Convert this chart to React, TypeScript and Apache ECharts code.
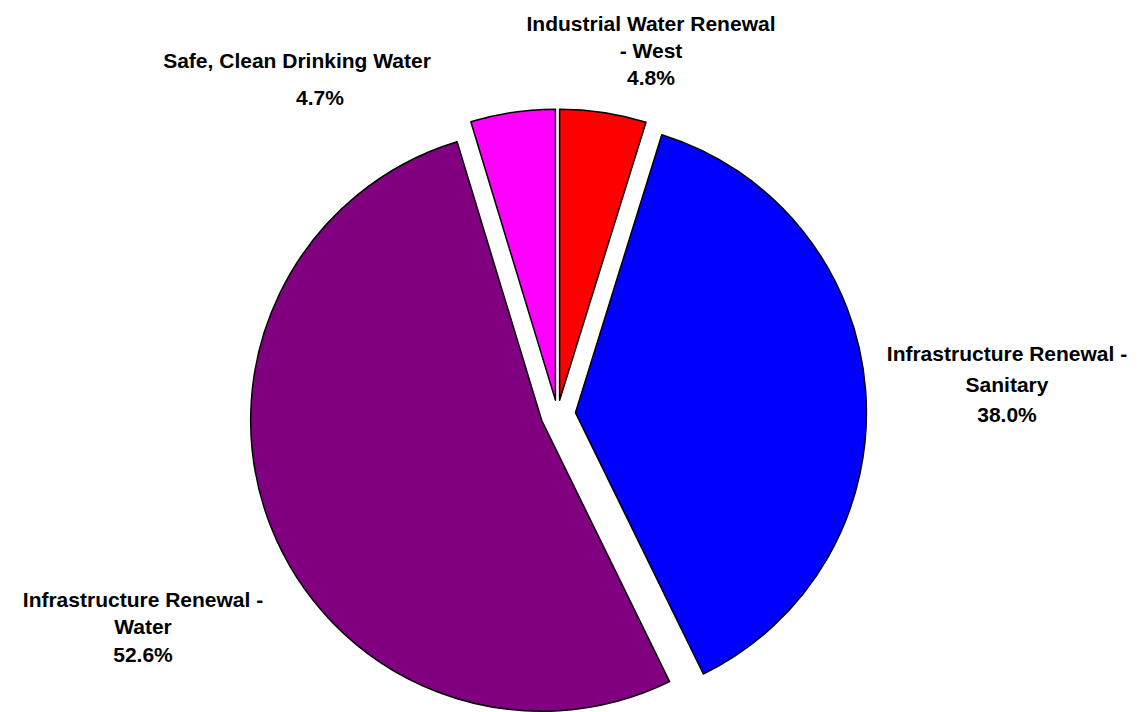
import React, { useEffect, useRef } from "react";
import * as echarts from "echarts";

const categories = [
  "Industrial Water Renewal\n- West",
  "Infrastructure Renewal -\nSanitary",
  "Infrastructure Renewal -\nWater",
  "Safe, Clean Drinking Water",
];
const values = [4.8, 38.0, 52.6, 4.7];
const colors = ["#FF0000", "#0000FF", "#800080", "#FF00FF"];
const explode = [14, 18, 17, 14];
const labelPos = [
  [651, 50.5],
  [1007, 384],
  [143, 626.5],
  [297, 78.75],
];
const labelLineHeight = [27, 30.5, 27.5, 37.5];
const pctPadLeft = [0, 0, 0, 46];

const CX = 557.5;
const CY = 414;
const R = 291;

export default function App() {
  const ref = useRef<HTMLDivElement>(null);
  useEffect(() => {
    if (!ref.current) return;
    const chart = echarts.init(ref.current, null, { renderer: "svg" });
    const total = values.reduce((a, b) => a + b, 0);
    let cum = 0;
    const series = values.map((v, i) => {
      const mid = ((cum + v / 2) / total) * 2 * Math.PI;
      cum += v;
      const dx = explode[i] * Math.sin(mid);
      const dy = -explode[i] * Math.cos(mid);
      const font = {
        fontFamily: "Liberation Sans, Arial, sans-serif",
        fontWeight: "bold",
        fontSize: 21,
        color: "#000",
        lineHeight: labelLineHeight[i],
      };
      return {
        type: "pie",
        silent: true,
        center: [CX + dx, CY + dy],
        radius: [0, R],
        startAngle: 90,
        clockwise: true,
        avoidLabelOverlap: false,
        emphasis: { disabled: true },
        labelLine: { show: false },
        label: {
          show: true,
          position: "outside",
          formatter: (p: any) => `{n|${p.name}}\n{p|${Number(p.value).toFixed(1)}%}`,
          rich: {
            n: { ...font },
            p: { ...font, padding: [0, 0, 0, pctPadLeft[i]] },
          },
          ...font,
        },
        labelLayout: (p: any) => ({
          x: labelPos[p.dataIndex][0],
          y: labelPos[p.dataIndex][1],
          align: "center",
          verticalAlign: "middle",
        }),
        data: values.map((vv, j) => ({
          name: categories[j],
          value: vv,
          itemStyle:
            j === i
              ? { color: colors[j], borderColor: "#000", borderWidth: 1.5 }
              : { color: "rgba(0,0,0,0)", borderWidth: 0 },
          label: { show: j === i },
        })),
      };
    });
    chart.setOption({
      animation: false,
      backgroundColor: "#fff",
      series,
    } as any);
    return () => chart.dispose();
  }, []);
  return (
    <div
      ref={ref}
      style={{ position: "absolute", left: 0, top: 0, width: 1148, height: 712 }}
    />
  );
}
